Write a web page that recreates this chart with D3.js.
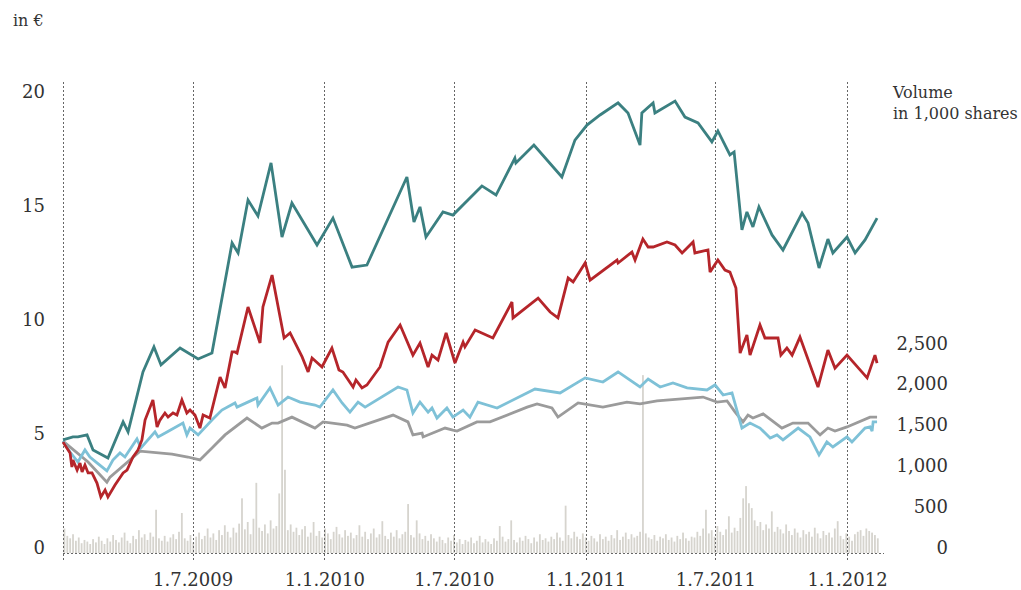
<!DOCTYPE html>
<html>
<head>
<meta charset="utf-8">
<script src="https://cdn.jsdelivr.net/npm/d3@7"></script>
<style>
  body { margin: 0; background: #fff; }
  svg { display: block; font-family: "DejaVu Serif", serif; }
  svg text, .tick text { font-family: "DejaVu Serif", serif; fill: #333; }
</style>
</head>
<body>
<div id="chart"></div>
<script>
var width = 1021;
var height = 590;

// price lines: [decimal year, price in €]
var teal = [
	[2009.000,4.96],[2009.038,5.09],[2009.057,5.09],[2009.092,5.18],[2009.115,4.52],[2009.172,4.17],
	[2009.230,5.75],[2009.249,5.31],[2009.306,7.94],[2009.348,9.04],[2009.375,8.25],[2009.448,8.99],
	[2009.517,8.51],[2009.570,8.77],[2009.647,13.60],[2009.670,13.16],[2009.708,15.48],[2009.746,14.78],
	[2009.796,17.11],[2009.838,13.86],[2009.876,15.35],[2009.972,13.51],[2010.033,14.69],[2010.106,12.54],
	[2010.163,12.63],[2010.316,16.49],[2010.343,14.52],[2010.366,15.18],[2010.389,13.86],[2010.454,14.96],
	[2010.492,14.82],[2010.603,16.10],[2010.657,15.70],[2010.729,17.32],[2010.733,17.11],[2010.802,17.89],
	[2010.909,16.49],[2010.959,18.11],[2011.005,18.77],[2011.055,19.21],[2011.124,19.74],[2011.162,19.30],
	[2011.208,17.89],[2011.215,19.30],[2011.258,19.74],[2011.265,19.30],[2011.342,19.82],[2011.380,19.12],
	[2011.430,18.86],[2011.483,18.03],[2011.506,18.51],[2011.552,17.46],[2011.568,17.59],[2011.598,14.17],
	[2011.617,14.96],[2011.640,14.30],[2011.663,15.18],[2011.713,13.95],[2011.755,13.29],[2011.828,14.91],
	[2011.851,14.47],[2011.893,12.50],[2011.927,13.77],[2011.946,13.16],[2012.000,13.86],[2012.031,13.16],
	[2012.069,13.73],[2012.115,14.69]
];
var red = [
	[2009.000,4.87],[2009.027,4.39],[2009.034,3.77],[2009.038,4.08],[2009.054,3.64],[2009.065,3.95],
	[2009.073,3.55],[2009.084,3.86],[2009.096,3.51],[2009.111,3.51],[2009.130,3.07],[2009.145,2.46],
	[2009.161,2.76],[2009.172,2.46],[2009.199,2.98],[2009.230,3.51],[2009.245,3.64],[2009.268,4.21],
	[2009.287,4.52],[2009.302,4.96],[2009.314,5.83],[2009.344,6.71],[2009.360,5.53],[2009.371,5.83],
	[2009.390,6.14],[2009.402,5.96],[2009.421,6.14],[2009.436,6.05],[2009.455,6.71],[2009.474,6.14],
	[2009.486,6.27],[2009.505,6.05],[2009.524,5.48],[2009.536,6.05],[2009.562,5.92],[2009.601,7.72],
	[2009.620,7.24],[2009.647,8.82],[2009.658,8.82],[2009.666,8.77],[2009.708,10.79],[2009.754,9.21],
	[2009.765,10.79],[2009.800,12.19],[2009.846,9.43],[2009.869,9.65],[2009.915,8.60],[2009.938,7.94],
	[2009.953,8.55],[2009.991,8.16],[2010.029,8.99],[2010.056,8.03],[2010.071,7.94],[2010.110,7.28],
	[2010.121,7.59],[2010.144,7.24],[2010.163,7.37],[2010.213,8.16],[2010.244,9.25],[2010.290,10.00],
	[2010.339,8.68],[2010.366,9.21],[2010.397,8.16],[2010.412,8.68],[2010.435,8.46],[2010.466,9.65],
	[2010.500,8.33],[2010.531,9.25],[2010.538,9.04],[2010.577,9.78],[2010.645,9.43],[2010.718,11.01],
	[2010.722,10.31],[2010.818,11.18],[2010.864,10.57],[2010.894,10.31],[2010.933,12.06],[2010.952,11.89],
	[2010.998,12.72],[2011.017,11.97],[2011.120,12.85],[2011.124,12.72],[2011.177,13.20],[2011.189,12.85],
	[2011.219,13.77],[2011.239,13.42],[2011.258,13.42],[2011.311,13.64],[2011.342,13.51],[2011.369,13.16],
	[2011.411,13.64],[2011.418,13.16],[2011.468,13.29],[2011.476,12.32],[2011.506,12.85],[2011.533,12.41],
	[2011.552,12.32],[2011.575,11.62],[2011.591,8.77],[2011.617,9.56],[2011.629,8.68],[2011.667,10.00],
	[2011.686,9.43],[2011.736,9.43],[2011.747,8.68],[2011.770,8.99],[2011.790,8.68],[2011.820,9.47],
	[2011.889,7.28],[2011.927,8.90],[2011.954,8.11],[2012.000,8.68],[2012.050,8.03],[2012.077,7.68],
	[2012.107,8.68],[2012.115,8.33]
];
var lightBlue = [
	[2009.000,4.91],[2009.027,4.43],[2009.057,3.99],[2009.084,4.52],[2009.103,4.21],[2009.130,3.95],
	[2009.168,3.60],[2009.191,4.08],[2009.218,4.39],[2009.237,4.21],[2009.283,5.00],[2009.298,4.61],
	[2009.352,5.31],[2009.364,5.09],[2009.398,5.31],[2009.459,5.70],[2009.474,5.18],[2009.486,5.48],
	[2009.517,5.18],[2009.570,5.83],[2009.608,6.27],[2009.658,6.58],[2009.666,6.40],[2009.742,6.80],
	[2009.746,6.49],[2009.792,7.24],[2009.823,6.49],[2009.861,6.84],[2009.907,6.62],[2009.964,6.49],
	[2009.983,6.40],[2010.033,7.15],[2010.068,6.58],[2010.098,6.18],[2010.129,6.62],[2010.156,6.40],
	[2010.282,7.28],[2010.316,7.15],[2010.339,6.14],[2010.366,6.62],[2010.397,6.18],[2010.412,6.36],
	[2010.431,5.92],[2010.469,6.36],[2010.492,5.96],[2010.531,6.27],[2010.557,5.96],[2010.588,6.62],
	[2010.661,6.36],[2010.806,7.19],[2010.902,7.02],[2010.998,7.68],[2011.066,7.50],[2011.124,7.94],
	[2011.208,7.28],[2011.239,7.63],[2011.285,7.28],[2011.334,7.46],[2011.388,7.24],[2011.464,7.15],
	[2011.495,7.37],[2011.526,6.93],[2011.560,7.02],[2011.598,5.48],[2011.629,5.70],[2011.667,5.48],
	[2011.706,5.04],[2011.732,5.18],[2011.755,4.96],[2011.813,5.48],[2011.858,5.09],[2011.893,4.30],
	[2011.923,4.87],[2011.946,4.65],[2012.000,5.09],[2012.019,4.87],[2012.069,5.48],[2012.088,5.53],
	[2012.096,5.35],[2012.100,5.75],[2012.115,5.75]
];
var gray = [
	[2009.000,4.91],[2009.096,3.99],[2009.168,3.11],[2009.180,3.33],[2009.295,4.47],[2009.417,4.34],
	[2009.478,4.21],[2009.524,4.08],[2009.574,4.65],[2009.620,5.18],[2009.704,5.92],[2009.761,5.48],
	[2009.800,5.70],[2009.823,5.70],[2009.876,5.96],[2009.964,5.48],[2009.995,5.75],[2010.087,5.61],
	[2010.117,5.48],[2010.263,6.05],[2010.320,5.75],[2010.339,5.18],[2010.374,5.26],[2010.378,5.09],
	[2010.462,5.48],[2010.492,5.39],[2010.508,5.35],[2010.584,5.75],[2010.634,5.75],[2010.776,6.40],
	[2010.814,6.54],[2010.871,6.36],[2010.894,5.96],[2010.971,6.58],[2011.066,6.40],[2011.158,6.62],
	[2011.208,6.54],[2011.273,6.67],[2011.449,6.84],[2011.503,6.62],[2011.541,6.67],[2011.572,6.18],
	[2011.602,5.75],[2011.621,6.05],[2011.640,5.92],[2011.679,6.10],[2011.751,5.48],[2011.793,5.70],
	[2011.851,5.70],[2011.897,5.18],[2011.927,5.48],[2011.954,5.35],[2012.000,5.53],[2012.088,5.96],
	[2012.115,5.96]
];

// volume in 1,000 shares, one value per 4 days from volStart
var volStart = "2009-01-03";
var volStepDays = 4;
var volume = [
	300,210,180,230,150,190,120,160,140,110, 170,130,200,150,110,180,140,220,160,130,
	190,250,150,120,210,170,280,190,230,160, 250,200,530,180,150,210,140,190,230,170,
	260,490,180,150,220,130,200,250,170,210, 300,190,240,160,280,220,340,260,190,310,
	250,360,670,290,380,230,420,860,310,270, 350,240,400,300,330,730,2300,1020,280,350,
	260,310,220,290,330,200,250,380,210,270, 190,300,240,170,260,320,230,190,280,210,
	250,180,220,340,200,260,170,240,300,190, 230,390,210,170,250,200,280,180,230,260,
	600,220,190,400,240,170,210,150,230,180, 140,200,160,120,190,150,220,130,170,110,
	160,140,190,120,150,210,130,170,140,110, 180,150,330,200,140,170,400,160,130,190,
	150,210,170,120,190,140,230,160,180,140, 200,170,250,190,150,580,220,180,260,200,
	170,240,190,150,210,180,140,230,170,200, 150,220,180,280,160,200,250,170,230,190,
	210,260,2180,240,190,170,220,150,200,180, 230,160,190,140,210,170,250,180,150,200,
	190,260,210,300,530,240,280,200,330,260, 220,290,450,250,310,270,430,670,820,610,
	550,400,330,380,280,350,300,510,260,320, 290,240,350,270,220,300,250,190,280,230,
	260,200,310,240,180,270,220,250,190,300, 390,210,170,240,200,150,230,260,280,210,
	300,270,250,220,180
];

var priceTicks = [0, 5, 10, 15, 20];
var volumeTicks = [0, 500, 1000, 1500, 2000, 2500];
var dateTicks = ["2009-07-01", "2010-01-01", "2010-07-01", "2011-01-01", "2011-07-01", "2012-01-01"];
var gridDates = ["2009-01-01"].concat(dateTicks);

var series = [
	{ name: "gray", data: gray, color: "#9b9b9b" },
	{ name: "lightBlue", data: lightBlue, color: "#7ec1d7" },
	{ name: "red", data: red, color: "#b5252a" },
	{ name: "teal", data: teal, color: "#3b8081" }
];

var parseDate = d3.timeParse("%Y-%m-%d");
function toDate(t) {
	var yr = Math.floor(t);
	return new Date(new Date(yr, 0, 1).getTime() + (t - yr) * 365 * 86400000);
}

var svg = d3.select("#chart").append("svg")
	.attr("width", width)
	.attr("height", height);

var xScale = d3.scaleTime()
	.domain([new Date(2009, 0, 1), new Date(2012, 0, 1)])
	.range([63, 847]);
var yPrice = d3.scaleLinear().domain([0, 20]).range([553, 97]);
var yVol = d3.scaleLinear().domain([0, 2500]).range([553, 349]);

// volume bars
var v0 = parseDate(volStart);
svg.append("g")
	.selectAll("rect")
	.data(volume)
	.enter()
	.append("rect")
		.attr("x", function(d, i) { return xScale(d3.timeDay.offset(v0, i * volStepDays)) - 0.9; })
		.attr("y", function(d) { return yVol(d); })
		.attr("width", 1.8)
		.attr("height", function(d) { return yVol(0) - yVol(d); })
		.attr("fill", "#d6d4ce");

// dotted grid
svg.append("g")
	.selectAll("line")
	.data(gridDates)
	.enter()
	.append("line")
		.attr("x1", function(d) { return Math.round(xScale(parseDate(d))) + 0.5; })
		.attr("x2", function(d) { return Math.round(xScale(parseDate(d))) + 0.5; })
		.attr("y1", 82)
		.attr("y2", 562)
		.attr("stroke", "#666")
		.attr("stroke-width", 1)
		.attr("stroke-dasharray", "2,2");

svg.append("line")
	.attr("x1", 63).attr("x2", 884)
	.attr("y1", yPrice(0) + 0.5).attr("y2", yPrice(0) + 0.5)
	.attr("stroke", "#666")
	.attr("stroke-dasharray", "2,2");

// lines
var line = d3.line()
	.x(function(d) { return xScale(toDate(d[0])); })
	.y(function(d) { return yPrice(d[1]); });

svg.append("g")
	.selectAll("path")
	.data(series)
	.enter()
	.append("path")
		.attr("d", function(d) { return line(d.data); })
		.attr("fill", "none")
		.attr("stroke", function(d) { return d.color; })
		.attr("stroke-width", 2.8)
		.attr("stroke-linejoin", "miter")
		.attr("stroke-miterlimit", 3);

// axes
var xAxis = svg.append("g")
	.attr("transform", "translate(0,586)")
	.call(d3.axisBottom(xScale)
		.tickValues(dateTicks.map(parseDate))
		.tickFormat(d3.timeFormat("%-d.%-m.%Y"))
		.tickSize(0)
		.tickPadding(0));
xAxis.selectAll("text").attr("dy", 0).attr("y", 0).style("font-size", "18px");

var yAxisLeft = svg.append("g")
	.attr("transform", "translate(45,0)")
	.call(d3.axisLeft(yPrice).tickValues(priceTicks).tickSize(0).tickPadding(0));
yAxisLeft.selectAll("text").attr("dy", 0).style("font-size", "18px");

var yAxisRight = svg.append("g")
	.attr("transform", "translate(948,0)")
	.call(d3.axisRight(yVol).tickValues(volumeTicks).tickSize(0).tickPadding(0)
		.tickFormat(d3.format(",")));
yAxisRight.selectAll("text").attr("dy", 0).attr("x", 0)
	.attr("text-anchor", "end").style("font-size", "18px");

svg.selectAll(".domain").remove();
svg.selectAll("g").attr("font-family", null);

// titles
svg.append("text")
	.attr("x", 13).attr("y", 26)
	.style("font-size", "16px")
	.text("in €");

svg.append("text")
	.attr("x", 893).attr("y", 98)
	.style("font-size", "16px")
	.text("Volume");
svg.append("text")
	.attr("x", 893).attr("y", 119)
	.style("font-size", "16px")
	.text("in 1,000 shares");
</script>
</body>
</html>
